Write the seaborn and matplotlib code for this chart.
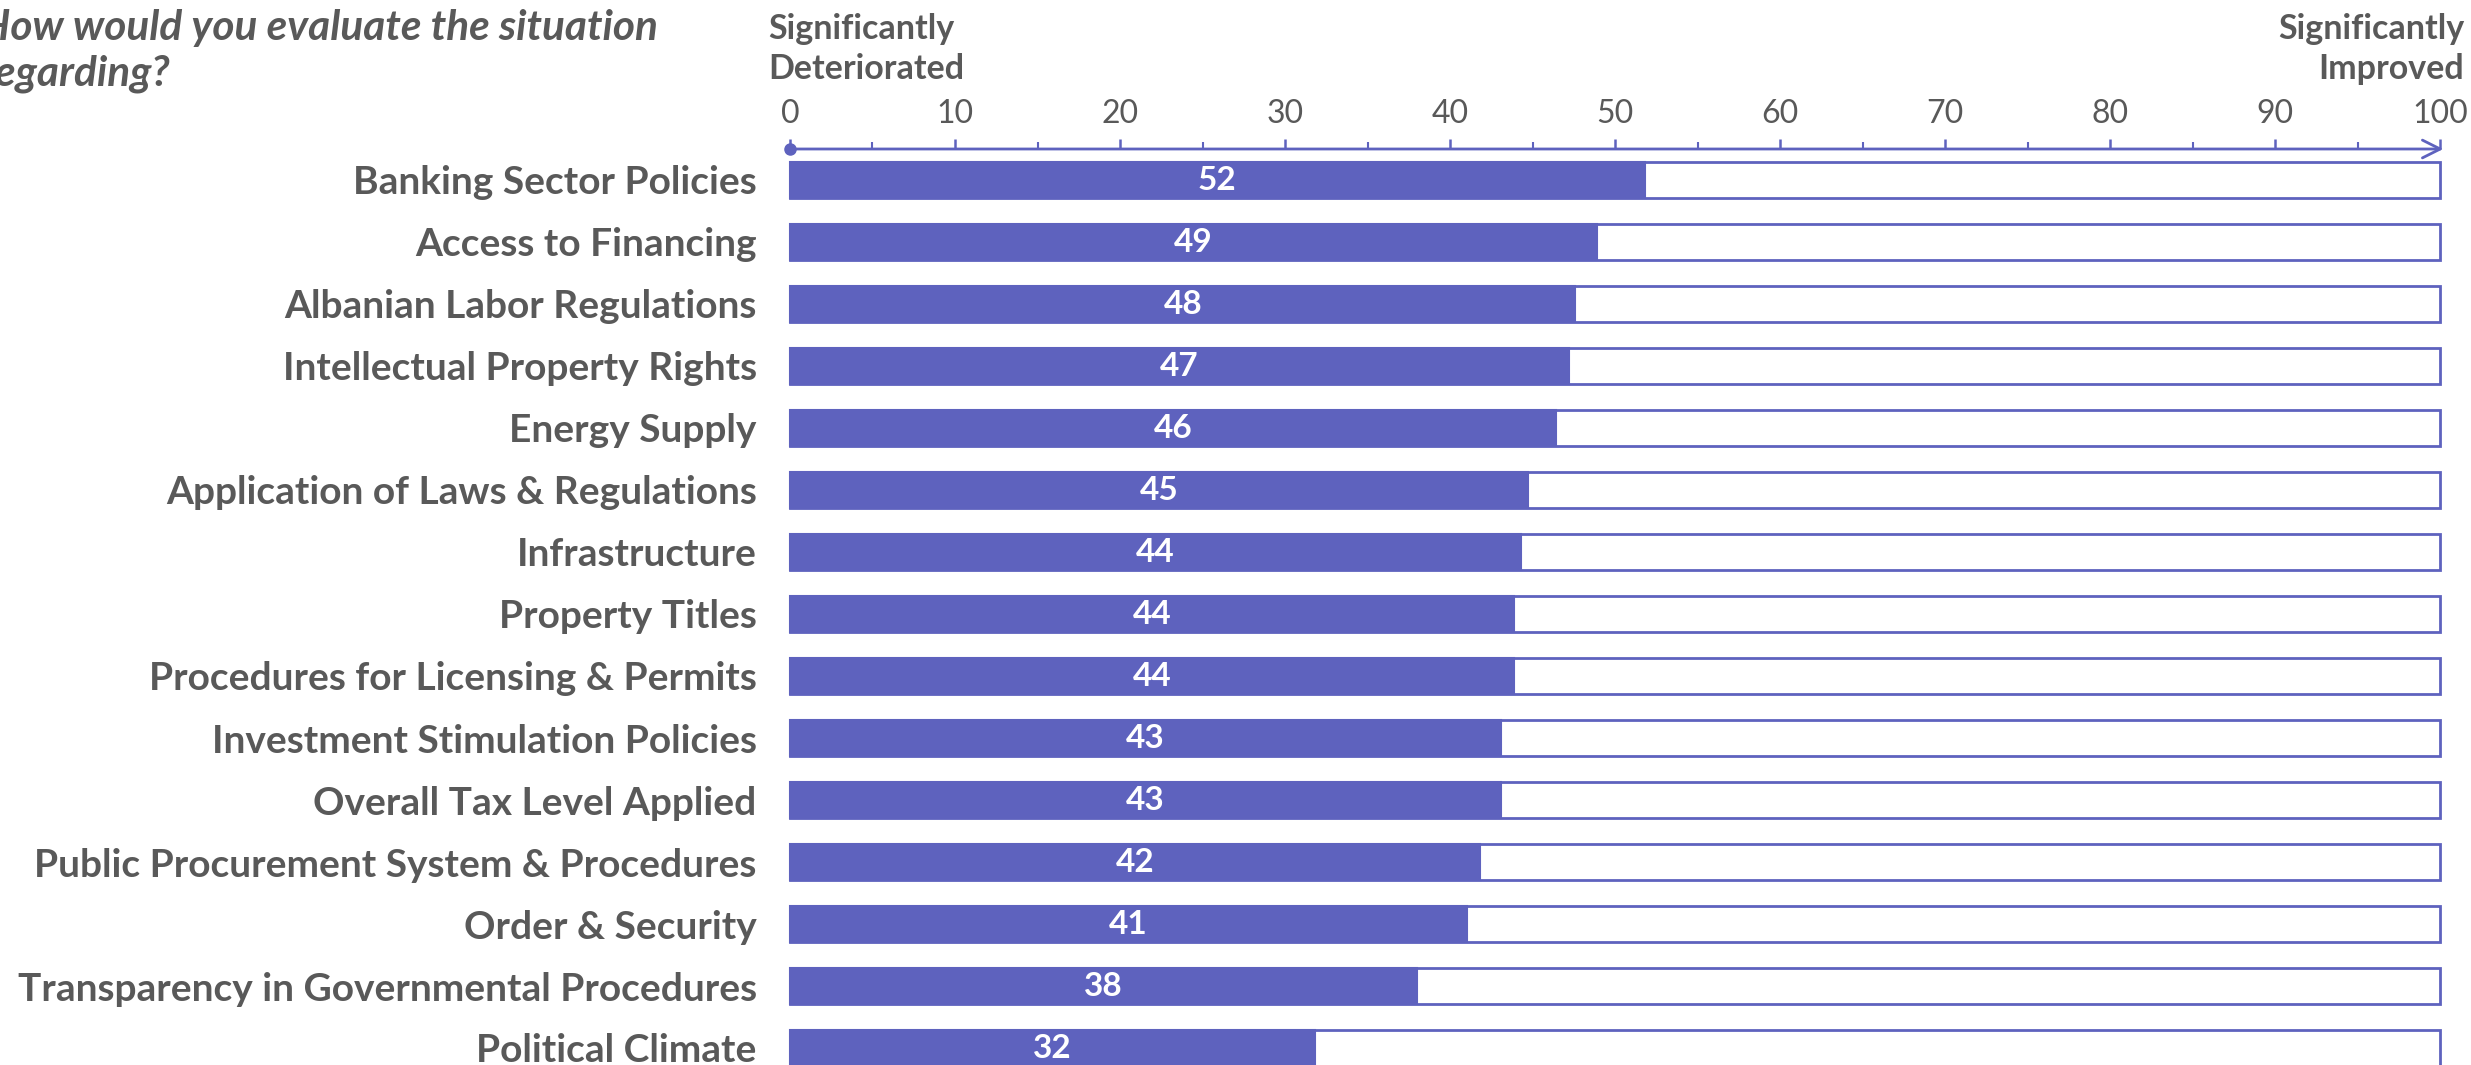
import matplotlib
matplotlib.use("Agg")
import matplotlib.pyplot as plt
import seaborn as sns
import pandas as pd

categories = [
    "Banking Sector Policies",
    "Access to Financing",
    "Albanian Labor Regulations",
    "Intellectual Property Rights",
    "Energy Supply",
    "Application of Laws & Regulations",
    "Infrastructure",
    "Property Titles",
    "Procedures for Licensing & Permits",
    "Investment Stimulation Policies",
    "Overall Tax Level Applied",
    "Public Procurement System & Procedures",
    "Order & Security",
    "Transparency in Governmental Procedures",
    "Political Climate",
]
values = [51.8, 48.9, 47.6, 47.2, 46.4, 44.7, 44.3, 43.9, 43.9, 43.1, 43.1, 41.8, 41.0, 38.0, 31.8]
value_labels = ["52", "49", "48", "47", "46", "45", "44", "44", "44", "43", "43", "42", "41", "38", "32"]
scale_max = [100] * len(categories)
major_ticks = [0, 10, 20, 30, 40, 50, 60, 70, 80, 90, 100]
minor_ticks = [5, 15, 25, 35, 45, 55, 65, 75, 85, 95]
title_text = "How would you evaluate the situation\nregarding?"
left_note = "Significantly\nDeteriorated"
right_note = "Significantly\nImproved"

BAR = "#5E62BE"
GRAY = "#595959"

sns.set_theme(style="white")
plt.rcParams["font.family"] = ["Lato", "DejaVu Sans"]

W, H = 2471, 1065
fig = plt.figure(figsize=(W / 100, H / 100), dpi=100)
fig.patch.set_facecolor("white")

# axes: x 0->790px, 100->2440px ; rows of 62px, first row centre at 180px
ax_left = 790 / W
ax_width = (2440 - 790) / W
ax_top = 1 - 149 / H
ax_bottom = 1 - (149 + 15 * 62) / H
ax = fig.add_axes([ax_left, ax_bottom, ax_width, ax_top - ax_bottom])

df = pd.DataFrame({"category": categories, "value": values, "full": scale_max})

sns.barplot(data=df, y="category", x="full", orient="h", color="white",
            edgecolor=BAR, linewidth=2, width=0.58, saturation=1, ax=ax)
sns.barplot(data=df, y="category", x="value", orient="h", color=BAR,
            edgecolor=BAR, linewidth=1.5, width=0.58, saturation=1, ax=ax)

for p in ax.patches:
    p.set_clip_on(False)

ax.bar_label(ax.containers[1], labels=value_labels, label_type="center",
             color="white", fontweight="bold", fontsize=24)

ax.set_xlim(0, 100)
ax.set_ylim(len(categories) - 0.5, -0.5)
ax.set_xlabel("")
ax.set_ylabel("")

for s in ax.spines.values():
    s.set_visible(False)

ax.xaxis.tick_top()
ax.set_xticks(major_ticks)
ax.set_xticks(minor_ticks, minor=True)
ax.set_xticklabels([str(t) for t in major_ticks])
ax.tick_params(axis="x", which="major", top=True, bottom=False, length=7.5,
               width=1.8, color=BAR, direction="out", pad=7,
               labelsize=23, labelcolor=GRAY)
ax.tick_params(axis="x", which="minor", top=True, bottom=False, length=5,
               width=1.5, color=BAR, direction="out")
ax.tick_params(axis="y", length=0, pad=24, labelsize=28, labelcolor=GRAY)
for lbl in ax.get_yticklabels():
    lbl.set_fontweight("bold")

# axis line with open arrow head and start dot
ax.annotate("", xy=(100.2, 1), xytext=(0, 1),
            xycoords=("data", "axes fraction"), textcoords=("data", "axes fraction"),
            arrowprops=dict(arrowstyle="->", color=BAR, lw=2, mutation_scale=32,
                            shrinkA=0, shrinkB=0),
            annotation_clip=False)
ax.plot([0], [1], marker="o", ms=8, color=BAR, transform=ax.get_xaxis_transform(),
        clip_on=False)

# header notes
fig.text(768 / W, 1 - 13 / H, left_note, ha="left", va="top", fontsize=24.5,
         fontweight="bold", color=GRAY, linespacing=1.3)
fig.text(2464 / W, 1 - 13 / H, right_note, ha="right", va="top", fontsize=24.5,
         fontweight="bold", color=GRAY, linespacing=1.3, multialignment="right")

# question title (clipped at the left edge like the reference)
fig.text(-20 / W, 1 - 9 / H, title_text, ha="left", va="top", fontsize=30.5,
         fontweight="bold", fontstyle="italic", color=GRAY, linespacing=1.25)

fig.savefig("out.png", dpi=100, facecolor="white")
